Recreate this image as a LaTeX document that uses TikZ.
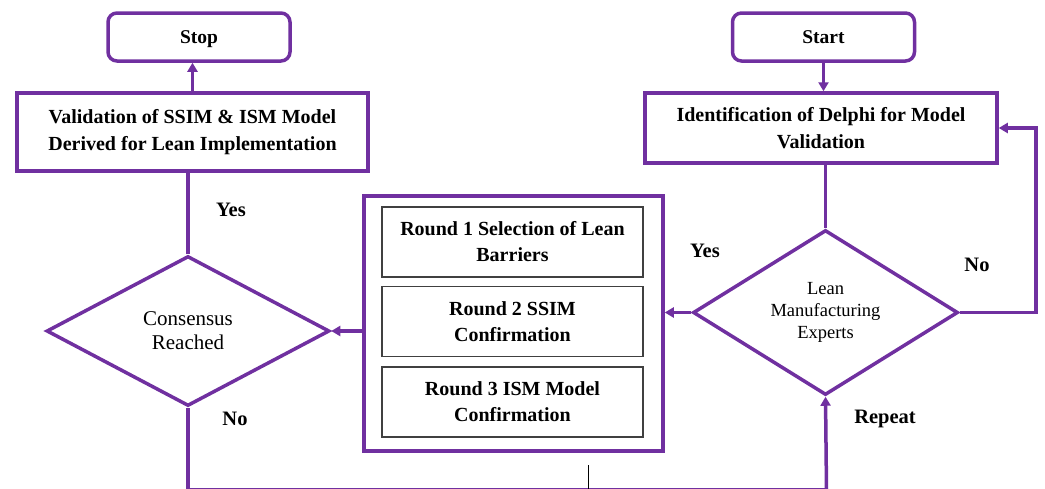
\documentclass[tikz,border=0pt]{standalone}
\usepackage{fontspec}
\setmainfont{Liberation Serif}
\usetikzlibrary{shapes.geometric,arrows.meta}
\definecolor{lpurple}{HTML}{7030A0}
\definecolor{boxgray}{HTML}{404040}

\begin{document}
\begin{tikzpicture}[x=1pt,y=-1pt,
  terminal/.style={draw=lpurple,line width=3.5pt,rounded corners=9pt,fill=white,
    minimum width=182pt,minimum height=48pt,inner sep=0pt,text depth=0pt,
    font=\fontsize{19.5}{22}\selectfont\bfseries},
  process/.style={draw=lpurple,line width=3.5pt,fill=white,align=center,inner sep=0pt,
    font=\fontsize{20}{27}\selectfont\bfseries},
  decision/.style={draw=lpurple,line width=3.5pt,diamond,aspect=1.7,inner sep=0pt,
    align=center,fill=white},
  roundbox/.style={draw=boxgray,line width=1.3pt,minimum width=261pt,minimum height=70pt,
    inner sep=0pt,align=center,font=\fontsize{20}{26}\selectfont\bfseries},
  conn/.style={draw=lpurple,line width=3.5pt},
  arr/.style={conn,-{Triangle[length=9pt,width=10pt]}},
  lbl/.style={font=\fontsize{20.5}{22}\selectfont\bfseries,inner sep=0pt}]
\useasboundingbox (0,0) rectangle (1045,488);

% terminals
\node[terminal] (stop) at (199,37) {Stop};
\node[terminal] (start) at (823.5,37) {Start};

% process boxes
\node[process,minimum width=351pt,minimum height=78pt] (val) at (192.5,132)
  {Validation of SSIM \& ISM Model\\Derived for Lean Implementation};
\node[process,minimum width=352pt,minimum height=70pt] (ident) at (821,128)
  {Identification of Delphi for Model\\Validation};

% decisions
\node[decision,minimum width=265pt,minimum height=165pt,
  font=\fontsize{18.5}{22}\selectfont] (lean) at (825.5,312.5)
  {Lean\\Manufacturing\\Experts};
\node[decision,minimum width=283pt,minimum height=150pt,
  font=\fontsize{21}{24}\selectfont] (cons) at (188,331)
  {Consensus\\Reached};

% Delphi rounds
\node[draw=lpurple,line width=3.5pt,minimum width=299pt,minimum height=255pt,inner sep=0pt]
  (rounds) at (513.5,323.5) {};
\node[roundbox] (r1) at (512.5,242) {Round 1 Selection of Lean\\Barriers};
\node[roundbox] (r2) at (512.5,321.5) {Round 2 SSIM\\Confirmation};
\node[roundbox] (r3) at (512.5,402) {Round 3 ISM Model\\Confirmation};

% connectors
\draw[arr] (val.north) -- (val.north |- stop.south);
\draw[arr] (start.south) -- (start.south |- ident.north);
\draw[conn] (ident.south -| lean.north) -- (lean.north);
\coordinate (noturn) at (1036,312.5);
\draw[arr] (lean.east) -- (noturn) |- (ident.east);
\draw[arr] (lean.west) -- (lean.west -| rounds.east);
\draw[arr] (cons.east -| rounds.west) -- (cons.east);
\draw[conn] (cons.north) -- (cons.north |- val.south);
\coordinate (loopL) at (188,489.6);
\coordinate (loopR) at (826.5,489.6);
\draw[conn] (cons.south) -- (loopL) -- (loopR);
\draw[arr] (loopR) -- (lean.south);
\coordinate (tickTop) at (588,465);
\coordinate (tickBot) at (588,489);
\draw[black,line width=1pt] (tickTop) -- (tickBot);

% branch labels
\node[lbl] (yesC) at (231,210) {Yes};
\node[lbl] (noC) at (235,419) {No};
\node[lbl] (yesL) at (705,251) {Yes};
\node[lbl] (noL) at (977,265) {No};
\node[lbl] (rep) at (885,419) {Repeat};
\end{tikzpicture}
\end{document}
